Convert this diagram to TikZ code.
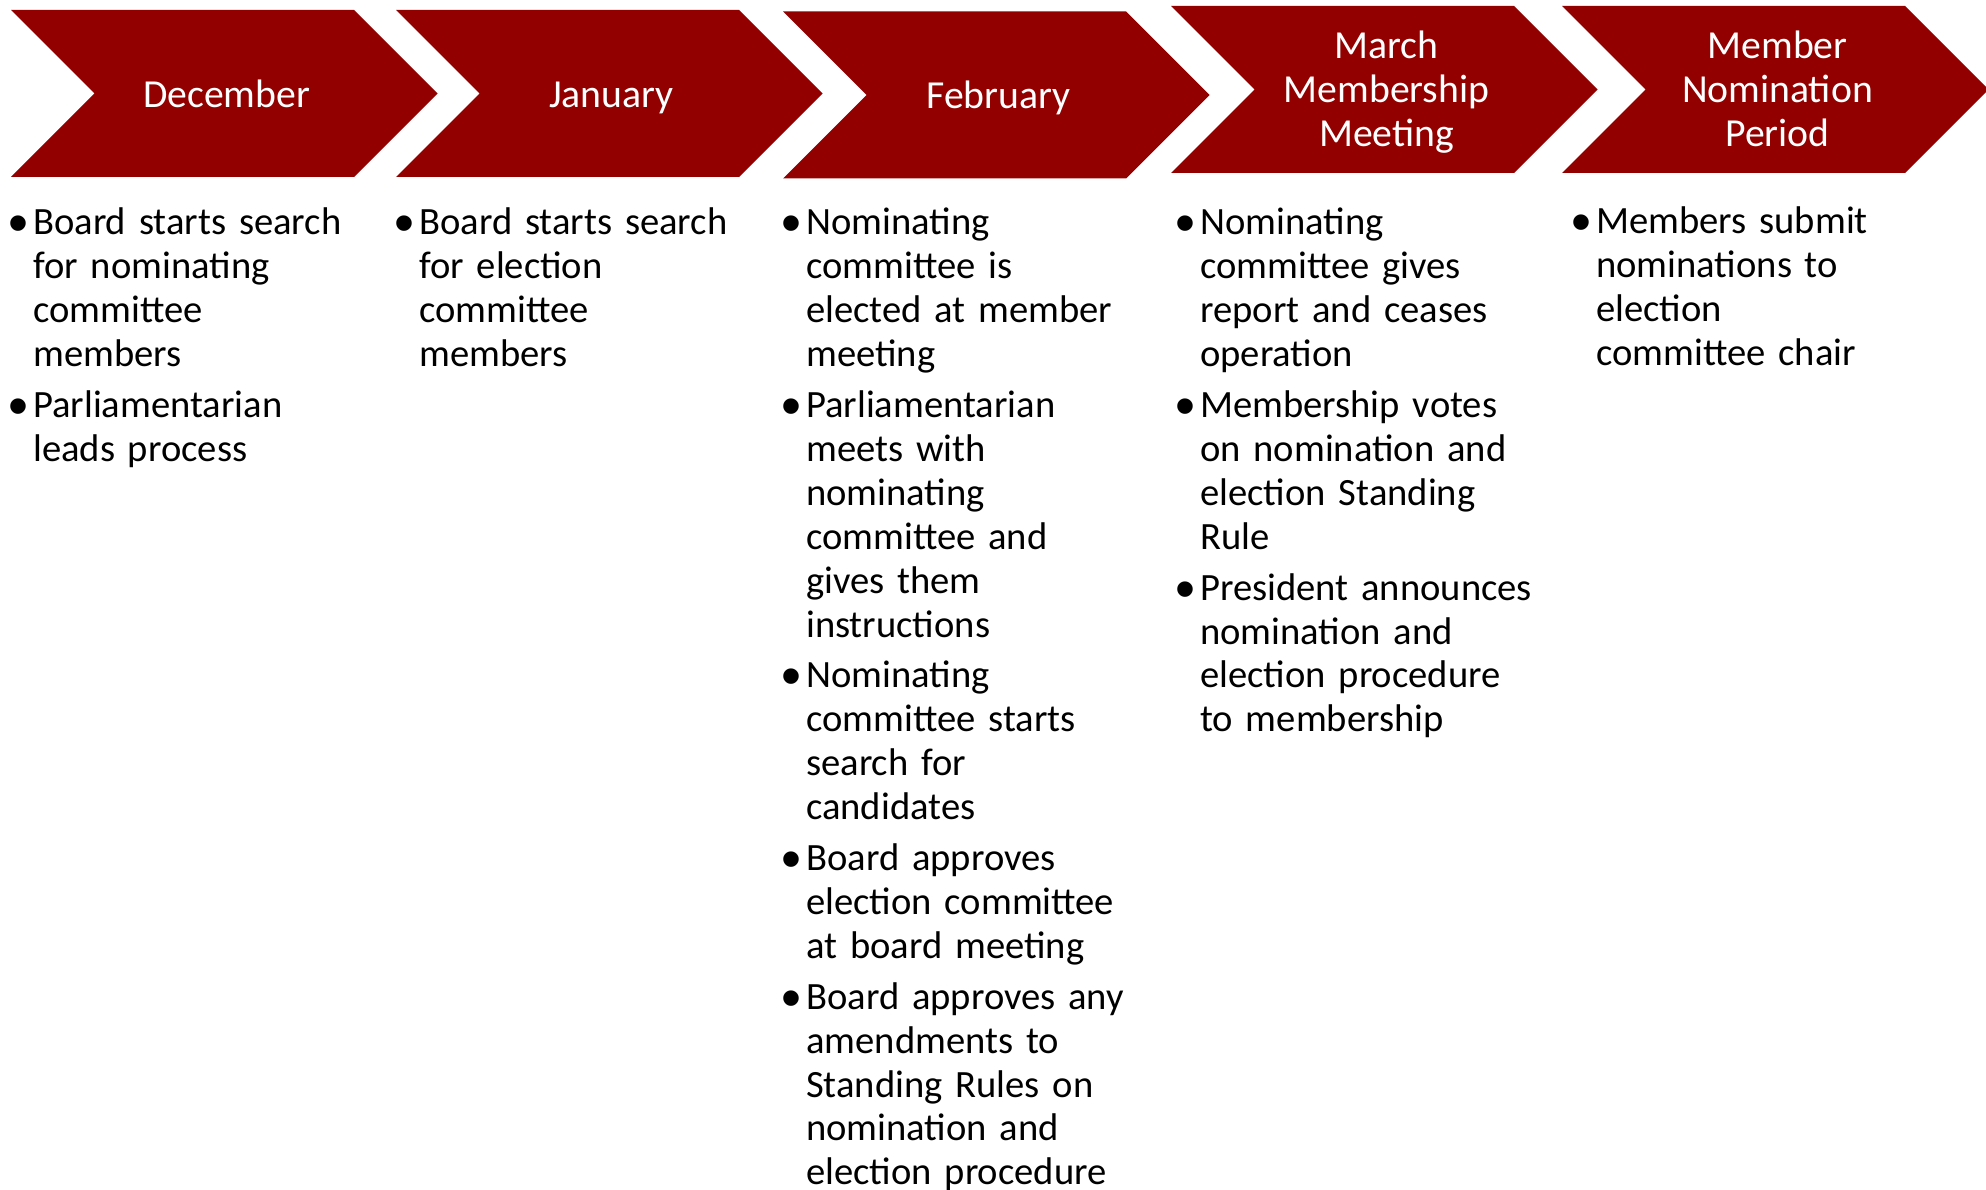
\documentclass[tikz,border=0pt]{standalone}
\usepackage{fontspec}
\setmainfont{Carlito}
\newfontfamily\bulletfont{Liberation Sans}
\definecolor{chevred}{RGB}{146,0,0}
\newcommand\bitem[1]{\parskip=7pt\parindent=0pt\hangindent=21.3pt\hangafter=1\noindent\makebox[21.3pt][l]{\hspace{-3.7pt}\raisebox{-8pt}{\bulletfont\fontsize{57}{57}\selectfont •}}#1\par}
\tikzset{
  chevron/.style={fill=chevred, draw=none},
  headtext/.style={text=white, font=\fontsize{39.7}{44}\selectfont, text width=330pt, align=center, inner sep=0pt, anchor=base},
  bodytext/.style={text=black, font=\fontsize{38.6}{43.9}\selectfont, text width=440pt, inner sep=0pt, anchor=base west},
}
\begin{document}
\begin{tikzpicture}[x=1pt,y=-1pt]
\useasboundingbox (0,0) rectangle (1986,1190);
\foreach \L/\T in {11/10,396/10,783/11.5,1171/6,1562/6}
  \fill[chevron] (\L,\T) -- ++(343,0) -- ++(83.5,83.5) -- ++(-83.5,83.5) -- ++(-343,0) -- ++(83.5,-83.5) -- cycle;

\node[headtext] (hdec) at (226.5,107.3) {December};
\node[headtext] (hjan) at (611.5,107.3) {January};
\node[headtext] (hfeb) at (998.5,108.8) {February};
\node[headtext] (hmar) at (1386.5,58.5) {March\\Membership\\Meeting};
\node[headtext] (hnom) at (1777.5,58.5) {Member\\Nomination\\Period};

\node[bodytext] (bdec) at (11.7,235) {\bitem{Board starts search\newline for nominating\newline committee\newline members}\bitem{Parliamentarian\newline leads process}};
\node[bodytext] (bjan) at (397.7,235) {\bitem{Board starts search\newline for election\newline committee\newline members}};
\node[bodytext] (bfeb) at (784.7,235) {\bitem{Nominating\newline committee is\newline elected at member\newline meeting}\bitem{Parliamentarian\newline meets with\newline nominating\newline committee and\newline gives them\newline instructions}\bitem{Nominating\newline committee starts\newline search for\newline candidates}\bitem{Board approves\newline election committee\newline at board meeting}\bitem{Board approves any\newline amendments to\newline Standing Rules on\newline nomination and\newline election procedure}};
\node[bodytext] (bmar) at (1178.7,235) {\bitem{Nominating\newline committee gives\newline report and ceases\newline operation}\bitem{Membership votes\newline on nomination and\newline election Standing\newline Rule}\bitem{President announces\newline nomination and\newline election procedure\newline to membership}};
\node[bodytext] (bnom) at (1574.7,234) {\bitem{Members submit\newline nominations to\newline election\newline committee chair}};
\end{tikzpicture}
\end{document}
